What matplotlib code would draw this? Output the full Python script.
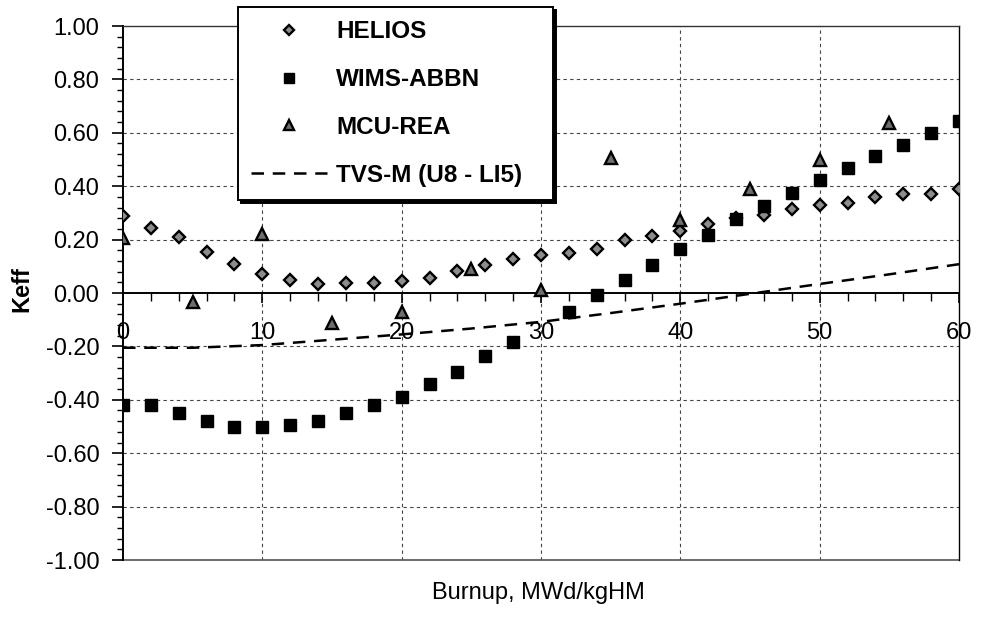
import matplotlib
matplotlib.use("Agg")
import matplotlib.pyplot as plt
from matplotlib.ticker import MultipleLocator, FormatStrFormatter

plt.rcParams['font.family'] = ['Liberation Sans', 'DejaVu Sans']

# HELIOS, every 2 MWd/kgHM
helios_x = list(range(0, 61, 2))
helios_y = [0.29, 0.245, 0.21, 0.155, 0.11, 0.073, 0.048, 0.035, 0.039, 0.039,
            0.046, 0.056, 0.083, 0.104, 0.129, 0.143, 0.149, 0.165, 0.200, 0.215,
            0.231, 0.258, 0.281, 0.291, 0.315, 0.329, 0.338, 0.360, 0.371, 0.371,
            0.388]

# WIMS-ABBN (no point at 30)
wims_x = list(range(0, 29, 2)) + list(range(32, 61, 2))
wims_y = [-0.42, -0.42, -0.45, -0.48, -0.50, -0.50, -0.495, -0.48, -0.45, -0.42,
          -0.39, -0.34, -0.295, -0.235, -0.185,
          -0.07, -0.008, 0.047, 0.106, 0.165, 0.218, 0.277, 0.325, 0.375, 0.422,
          0.468, 0.513, 0.556, 0.600, 0.643]

# MCU-REA, every 5
mcu_x = list(range(0, 56, 5))
mcu_y = [0.206, -0.032, 0.222, -0.113, -0.072, 0.09, 0.012, 0.505, 0.275, 0.39,
         0.50, 0.636]

# TVS-M (U8 - LI5)
tvs_x = list(range(0, 61, 5))
tvs_y = [-0.205, -0.205, -0.195, -0.175, -0.155, -0.133, -0.108, -0.075, -0.04,
         -0.003, 0.034, 0.07, 0.108]

fig = plt.figure(figsize=(9.81, 6.21), dpi=100)
ax = fig.add_axes([0.1254, 0.0982, 0.8522, 0.8599])

ax.plot(helios_x, helios_y, linestyle='none', marker='D', ms=6.5,
        mfc='#8c8c8c', mec='black', mew=1.7, label='HELIOS', zorder=4)
ax.plot(wims_x, wims_y, linestyle='none', marker='s', ms=8.5,
        mfc='black', mec='black', label='WIMS-ABBN', zorder=4)
ax.plot(mcu_x, mcu_y, linestyle='none', marker='^', ms=9,
        mfc='#6e6e6e', mec='black', mew=1.7, label='MCU-REA', zorder=5)
ax.plot(tvs_x, tvs_y, color='black', lw=1.8, dashes=(5, 3.5),
        label='TVS-M (U8 - LI5)', zorder=3)

ax.set_xlim(0, 60)
ax.set_ylim(-1.0, 1.0)

# x axis crosses at zero, like the spreadsheet original
ax.spines['bottom'].set_position(('data', 0))
ax.spines['bottom'].set_linewidth(1.4)
ax.spines['left'].set_linewidth(1.4)
ax.spines['right'].set_linewidth(1.0)
ax.spines['top'].set_linewidth(1.0)
ax.spines['top'].set_linestyle((0, (3, 1)))
ax.spines['top'].set_color('#333333')
ax.axhline(-1.0, color='#555555', lw=1.2, zorder=2, clip_on=False)

ax.xaxis.set_major_locator(MultipleLocator(10))
ax.xaxis.set_minor_locator(MultipleLocator(2))
ax.yaxis.set_major_locator(MultipleLocator(0.2))
ax.yaxis.set_minor_locator(MultipleLocator(0.04))
ax.yaxis.set_major_formatter(FormatStrFormatter('%.2f'))

ax.tick_params(axis='x', which='major', direction='out', length=7, width=1.2,
               labelsize=17, pad=14)
ax.tick_params(axis='x', which='minor', direction='out', length=6, width=1.0)
ax.tick_params(axis='y', which='major', direction='out', length=8, width=1.2,
               labelsize=17, pad=9)
ax.tick_params(axis='y', which='minor', direction='out', length=4, width=1.0)

for v in [0.2, 0.4, 0.6, 0.8, -0.2, -0.4, -0.6, -0.8]:
    ax.axhline(v, color='#444444', lw=0.8, dashes=(3, 3), zorder=1)
for v in [10, 20, 30, 40, 50]:
    ax.axvline(v, color='#444444', lw=0.8, dashes=(3, 3), zorder=1)

fig.text(22 / 981, 1 - 289 / 621, 'Keff', fontsize=17, fontweight='bold',
         rotation=90, ha='center', va='center')
fig.text(0.549, 0.045, 'Burnup, MWd/kgHM', fontsize=17, ha='center', va='center')

leg = ax.legend(loc='upper left',
                bbox_to_anchor=(238 / 981, 1 - 200 / 621, 315 / 981, 193 / 621),
                bbox_transform=fig.transFigure, mode='expand',
                prop={'size': 17.5, 'weight': 'bold'}, frameon=True, fancybox=False,
                shadow={'facecolor': 'black', 'edgecolor': 'black', 'alpha': 1},
                borderpad=0.55, labelspacing=1.02, handlelength=3.1,
                handletextpad=0.4, markerscale=0.8, borderaxespad=0)
leg.get_frame().set_edgecolor('black')
leg.get_frame().set_linewidth(1.4)
leg.get_frame().set_alpha(1)
leg.set_zorder(10)

fig.savefig('out.png', dpi=100)
